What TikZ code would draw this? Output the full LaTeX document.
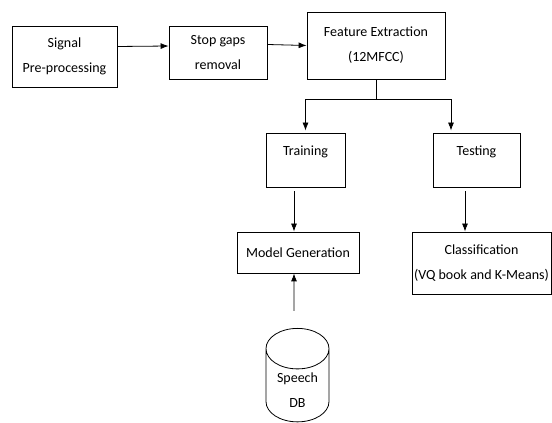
\documentclass[tikz,border=0pt]{standalone}
\usepackage{fontspec}
\setmainfont{Carlito}
\usetikzlibrary{shapes.geometric, arrows.meta}

\begin{document}
\begin{tikzpicture}[x=1pt, y=1pt, >={Latex[length=8pt, width=6pt]}, font=\fontsize{14}{25}\selectfont,
	block/.style={draw, line width=0.8pt, align=center, inner sep=0pt},
	link/.style={->, line width=0.8pt}]
	\useasboundingbox (0,0) rectangle (552,423);
	\node (signal) [block, minimum width=105pt, minimum height=61pt] at (64.5,366.5) {Signal\\Pre-processing};
	\node (stop) [block, minimum width=98pt, minimum height=53pt] at (218,370.5) {Stop gaps\\removal};
	\node (feat) [block, minimum width=138pt, minimum height=67pt] at (376,377.5) {Feature Extraction\\(12MFCC)};
	\node (train) [block, minimum width=79pt, minimum height=54pt, text depth=18pt] at (305.5,263) {Training};
	\node (test) [block, minimum width=87pt, minimum height=54pt, text depth=18pt] at (476.5,263) {Testing};
	\node (model) [block, minimum width=122pt, minimum height=41pt] at (298,170.5) {Model Generation};
	\node (class) [block, minimum width=139pt, minimum height=62pt] at (481.5,160) {Classification\\(VQ book and K-Means)};
	\node (db) [draw, cylinder, shape border rotate=90, aspect=0.85, line width=0.8pt, align=center,
		minimum width=63pt, minimum height=76pt] at (297.5,33) {Speech\\DB};
	\draw [link] ([yshift=10pt]signal.east) -- ([yshift=6.5pt]stop.west);
	\draw [link] ([yshift=8pt]stop.east) -- (feat.west);
	\draw [line width=0.8pt] (feat.south) -- ++(0,-20) coordinate (split);
	\draw [link] (split) -| ([yshift=2pt]train.north);
	\draw [link] (split) -| ([xshift=-25.5pt,yshift=2pt]test.north);
	\draw [link] ([xshift=-11.5pt,yshift=-4pt]train.south) -- ([xshift=-4pt]model.north);
	\draw [link] ([xshift=-11.5pt,yshift=-4pt]test.south) -- ([xshift=-16.5pt]class.north);
	\draw [link] ([xshift=-3.5pt,yshift=17pt]db.north) -- ([xshift=-4pt]model.south);
\end{tikzpicture}
\end{document}
